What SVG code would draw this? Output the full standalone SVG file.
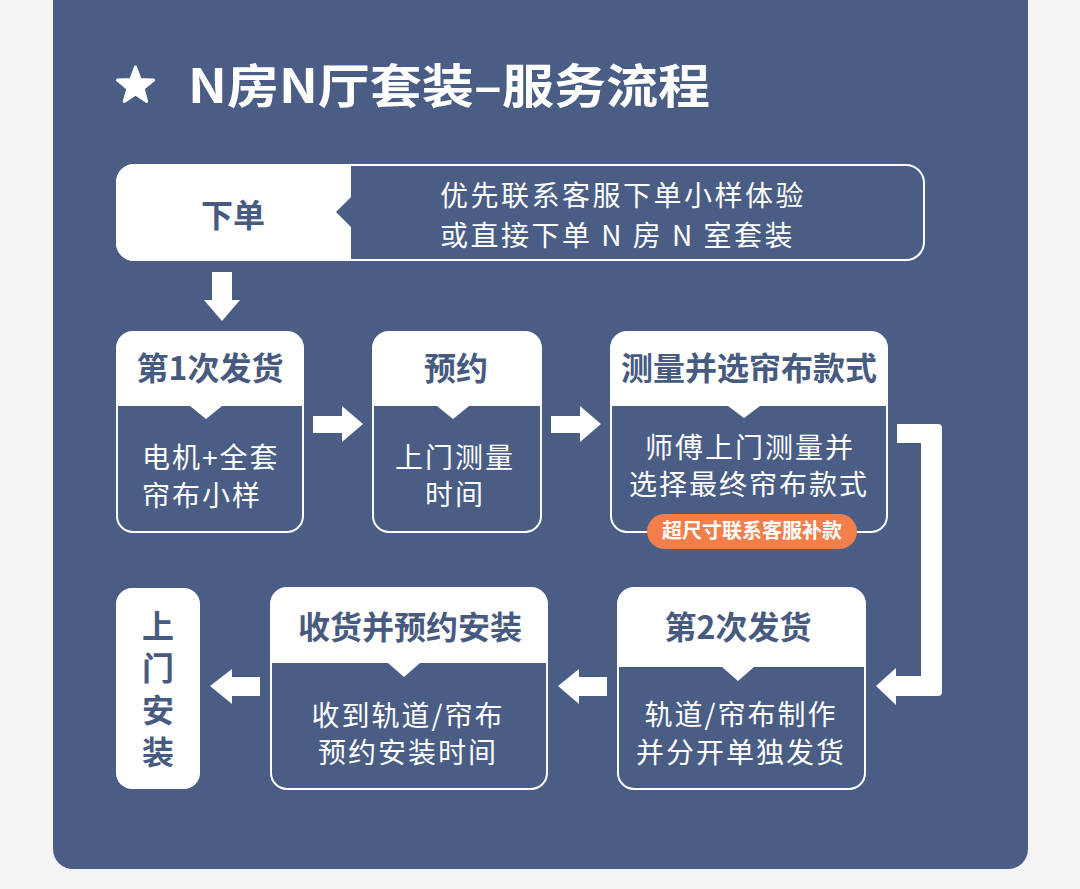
<svg xmlns="http://www.w3.org/2000/svg" width="1080" height="889" viewBox="0 0 1080 889">
<style>
.bg{fill:#4a5d84}
.hd{fill:#fff}
.box{fill:#4a5d84;stroke:#fff;stroke-width:2}
.t{font-family:"Noto Sans CJK SC","Noto Sans",sans-serif;font-weight:700;font-size:32px;fill:#475a80;text-anchor:middle}
.b{font-family:"Noto Sans CJK SC","Noto Sans",sans-serif;font-weight:400;font-size:28px;fill:#fff;text-anchor:middle;letter-spacing:2px}
.arr{fill:#fff}
</style>
<rect x="0" y="0" width="1080" height="889" fill="#f4f4f4"/>
<rect class="bg" x="53" y="-30" width="975" height="899" rx="20"/>

<g id="title">
<polygon points="135.5,67 140.2,79.5 153.6,80.1 143.1,88.5 146.7,101.4 135.5,94 124.3,101.4 127.9,88.5 117.4,80.1 130.8,79.5" fill="#fff" stroke="#fff" stroke-width="3" stroke-linejoin="round"/>
<text x="188" y="103" font-family="'Noto Sans CJK SC','Noto Sans',sans-serif" font-weight="700" font-size="47" fill="#fff" textLength="522" lengthAdjust="spacingAndGlyphs">N房N厅套装–服务流程</text>
</g>

<g id="order">
<path class="hd" d="M351,164 H134 A18,18 0 0 0 116,182 V243 A18,18 0 0 0 134,261 H351 V227 L336,212 L351,197 Z"/>
<rect x="117" y="165" width="807" height="95" rx="18" fill="none" stroke="#fff" stroke-width="2"/>
<text class="t" x="233" y="227">下单</text>
<text class="b" x="440" y="206" style="text-anchor:start;letter-spacing:2.5px">优先联系客服下单小样体验</text>
<text class="b" x="440" y="246" style="text-anchor:start;letter-spacing:2.5px">或直接下单 N 房 N 室套装</text>
</g>

<g id="ship1">
<rect class="box" x="117" y="332" width="186" height="200" rx="16"/>
<path class="hd" d="M117,406 V348 A16,16 0 0 1 133,332 H287 A16,16 0 0 1 303,348 V406 H222 L206,419 L190,406 Z"/>
<text class="t" x="210" y="380">第1次发货</text>
<text class="b" x="142" y="468" style="text-anchor:start">电机+全套</text>
<text class="b" x="142" y="506" style="text-anchor:start">帘布小样</text>
</g>

<g id="appoint">
<rect class="box" x="373" y="332" width="168" height="200" rx="16"/>
<path class="hd" d="M373,406 V348 A16,16 0 0 1 389,332 H525 A16,16 0 0 1 541,348 V406 H469 L453,419 L437,406 Z"/>
<text class="t" x="456" y="380">预约</text>
<text class="b" x="455" y="468">上门测量</text>
<text class="b" x="455" y="505">时间</text>
</g>

<g id="measure">
<rect class="box" x="611" y="332" width="276" height="200" rx="16"/>
<path class="hd" d="M611,406 V348 A16,16 0 0 1 627,332 H871 A16,16 0 0 1 887,348 V406 H760 L744,418 L728,406 Z"/>
<text class="t" x="749" y="380">测量并选帘布款式</text>
<text class="b" x="750" y="458">师傅上门测量并</text>
<text class="b" x="749" y="495">选择最终帘布款式</text>
<rect x="647" y="514" width="210" height="35" rx="17.5" fill="#f27e4c"/>
<text x="752" y="538" font-family="'Noto Sans CJK SC','Noto Sans',sans-serif" font-weight="700" font-size="20" fill="#fff" text-anchor="middle">超尺寸联系客服补款</text>
</g>

<g id="ship2">
<rect class="box" x="618" y="588" width="247" height="201" rx="16"/>
<path class="hd" d="M618,667 V604 A16,16 0 0 1 634,588 H849 A16,16 0 0 1 865,604 V667 H754 L738,681 L722,667 Z"/>
<text class="t" x="738" y="639">第2次发货</text>
<text class="b" x="741" y="725">轨道/帘布制作</text>
<text class="b" x="741" y="763">并分开单独发货</text>
</g>

<g id="receive">
<rect class="box" x="271" y="588" width="276" height="201" rx="16"/>
<path class="hd" d="M271,663 V604 A16,16 0 0 1 287,588 H531 A16,16 0 0 1 547,604 V663 H420 L404,677 L388,663 Z"/>
<text class="t" x="410" y="639">收货并预约安装</text>
<text class="b" x="408" y="726">收到轨道/帘布</text>
<text class="b" x="408" y="763">预约安装时间</text>
</g>

<g id="install">
<rect x="116" y="588" width="84" height="201" rx="16" fill="#fff"/>
<text class="t" x="158" y="610" style="writing-mode:vertical-rl;text-anchor:start;letter-spacing:10px">上门安装</text>
</g>

<g id="connectors">
<polygon class="arr" points="212,272 232,272 232,300 240,300 222,321 204,300 212,300"/>
<polygon class="arr" points="313,416 342,416 342,406 363,424 342,442 342,433 313,433"/>
<polygon class="arr" points="551,416 580,416 580,406 601,424 580,442 580,433 551,433"/>
<path class="arr" d="M897,424 H938 Q942,424 942,428 V692 Q942,696 938,696 H896 V705 L876,686 L896,668 V676 H921 V443 H897 Z"/>
<polygon class="arr" points="607,677 579,677 579,669 558,686 579,704 579,696 607,696"/>
<polygon class="arr" points="260,677 232,677 232,669 210,686 232,704 232,696 260,696"/>
</g>
</svg>
